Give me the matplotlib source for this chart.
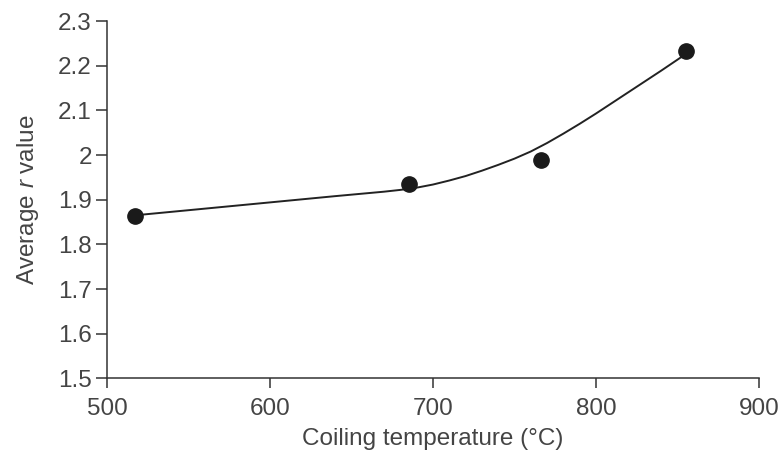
import numpy as np
import matplotlib
matplotlib.use("Agg")
import matplotlib.pyplot as plt

plt.rcParams['font.family'] = ['Liberation Sans', 'DejaVu Sans']
plt.rcParams['mathtext.fontset'] = 'custom'
plt.rcParams['mathtext.rm'] = 'Liberation Sans'
plt.rcParams['mathtext.it'] = 'Liberation Sans:italic'

# measured points
temp = [517, 685, 766, 855]
r_avg = [1.863, 1.936, 1.988, 2.232]

# fitted curve
curve_t = [517, 560, 600, 640, 670, 680, 690, 700, 710, 720, 730, 740, 750,
           760, 770, 780, 790, 800, 820, 840, 855]
curve_r = [1.865, 1.880, 1.894, 1.908, 1.918, 1.922, 1.927, 1.934, 1.943, 1.953,
           1.965, 1.978, 1.992, 2.008, 2.027, 2.048, 2.070, 2.093, 2.141, 2.189, 2.226]

xticks = [500, 600, 700, 800, 900]
yticks = [1.5, 1.6, 1.7, 1.8, 1.9, 2.0, 2.1, 2.2, 2.3]
ytick_labels = ['1.5', '1.6', '1.7', '1.8', '1.9', '2', '2.1', '2.2', '2.3']

fig = plt.figure(figsize=(7.83, 4.59), dpi=100)
ax = fig.add_axes([0.1367, 0.1758, 0.8326, 0.7782])

ax.plot(curve_t, curve_r, color='#222222', lw=1.4, zorder=2)
ax.plot(temp, r_avg, 'o', color='#1a1a1a', ms=11, zorder=3)

ax.set_xlim(500, 900)
ax.set_ylim(1.5, 2.3)
ax.set_xticks(xticks)
ax.set_yticks(yticks)
ax.set_yticklabels(ytick_labels)

for s in ['top', 'right']:
    ax.spines[s].set_visible(False)
for s in ['left', 'bottom']:
    ax.spines[s].set_color('#333333')
    ax.spines[s].set_linewidth(1.1)

ax.tick_params(direction='out', width=1.1, color='#333333',
               labelsize=17.5, labelcolor='#444444')
ax.tick_params(axis='x', length=7, pad=7)
ax.tick_params(axis='y', length=8, pad=3)

ax.set_xlabel('Coiling temperature (°C)', fontsize=17.5, color='#444444', labelpad=6)
ax.set_ylabel(r'Average $\it{r}$ value', fontsize=17.5, color='#444444', labelpad=12)

fig.savefig('out.png', dpi=100)
